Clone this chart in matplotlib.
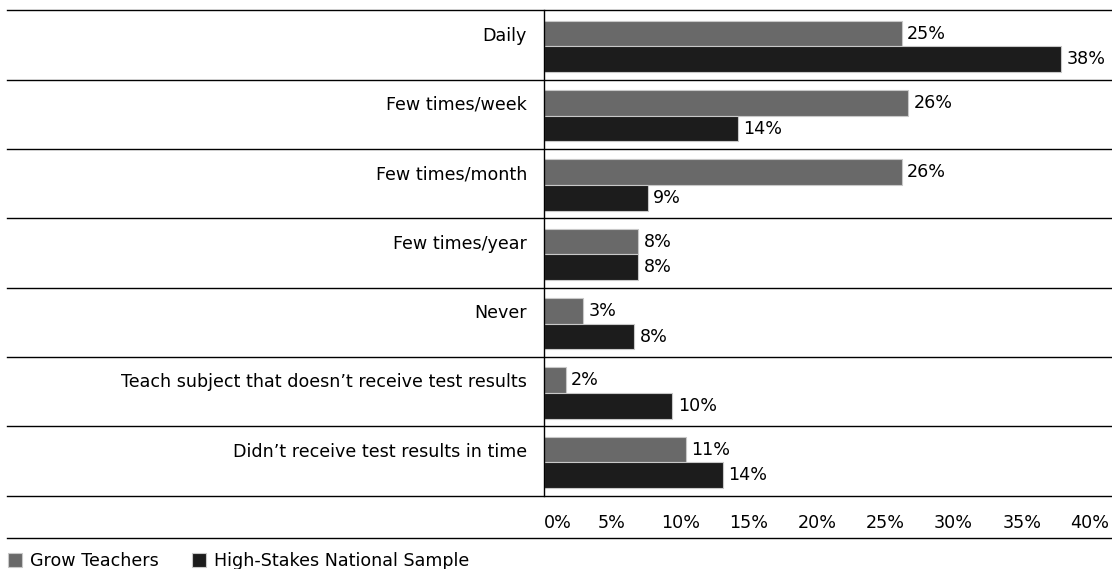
import matplotlib
matplotlib.use("Agg")
import matplotlib.pyplot as plt
from matplotlib.lines import Line2D

plt.rcParams['font.family'] = ['DejaVu Sans']
plt.rcParams['font.size'] = 12.6

# Data
categories = ["Daily", "Few times/week", "Few times/month", "Few times/year", "Never",
              "Teach subject that doesn\u2019t receive test results",
              "Didn\u2019t receive test results in time"]
# bar lengths as drawn (%)
grow = [26.2, 26.7, 26.2, 6.9, 2.9, 1.6, 10.4]
national = [37.9, 14.2, 7.6, 6.9, 6.6, 9.4, 13.1]
# value labels as printed on the chart
grow_labels = ["25%", "26%", "26%", "8%", "3%", "2%", "11%"]
national_labels = ["38%", "14%", "9%", "8%", "8%", "10%", "14%"]
xticks = [0, 5, 10, 15, 20, 25, 30, 35, 40]

W, H = 1112, 569
fig = plt.figure(figsize=(W / 100, H / 100), dpi=100)
ax_left, ax_top, ax_bottom = 543.7, 10.3, 495.7
ax = fig.add_axes([ax_left / W, 1 - ax_bottom / H, 1 - ax_left / W, (ax_bottom - ax_top) / H])

pos = list(range(len(categories)))
gray_y = [p + 0.335 for p in pos]
black_y = [p + 0.705 for p in pos]

b1 = ax.barh(gray_y, grow, height=0.37, color='#696969', edgecolor='#c8c8c8', linewidth=0.8,
             label='Grow Teachers')
b2 = ax.barh(black_y, national, height=0.37, color='#1c1c1c', edgecolor='#c8c8c8', linewidth=0.8,
             label='High-Stakes National Sample')
ax.bar_label(b1, labels=grow_labels, padding=4)
ax.bar_label(b2, labels=national_labels, padding=4)

ax.set_xlim(0, (W - ax_left) / 13.66)
ax.set_ylim(len(categories), 0)

ax.set_yticks(gray_y)
ax.set_yticklabels(categories)
ax.set_xticks(xticks)
ax.set_xticklabels([f"{t}%" for t in xticks])
ax.get_xticklabels()[0].set_ha('left')
ax.tick_params(axis='y', length=0, pad=12)
ax.tick_params(axis='x', length=0, pad=13)

for s in ['top', 'right', 'bottom']:
    ax.spines[s].set_visible(False)
ax.spines['left'].set_linewidth(1)

# separators running across the label area too
xmin = -(ax_left - 7.3) / (W - ax_left)
for b in range(len(categories) + 1):
    ax.axhline(b, xmin=xmin, xmax=1, color='black', lw=1, clip_on=False)

fig.add_artist(Line2D([7.3 / W, 1], [1 - 538.3 / H] * 2, color='black', lw=1))

fig.legend(handles=[b1, b2], loc='center left', bbox_to_anchor=(8 / W, 1 - 561 / H),
           ncol=2, frameon=False, borderpad=0, borderaxespad=0, handlelength=0.8,
           handleheight=0.8, handletextpad=0.45, columnspacing=1.9)

fig.savefig("out.png", dpi=100)
